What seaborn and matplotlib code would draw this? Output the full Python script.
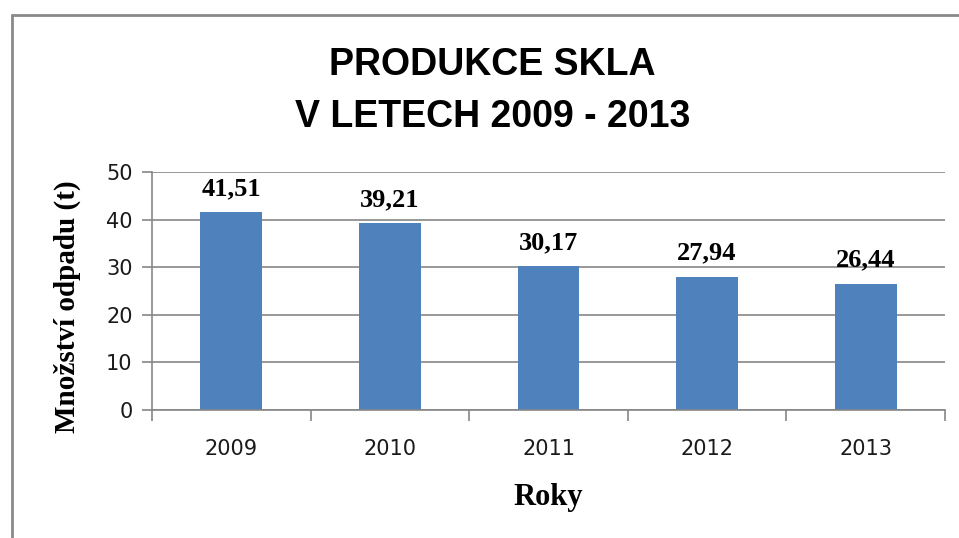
import matplotlib
matplotlib.use("Agg")
import matplotlib.pyplot as plt
import seaborn as sns
import pandas as pd
from matplotlib.lines import Line2D

years = ["2009", "2010", "2011", "2012", "2013"]
values = [41.51, 39.21, 30.17, 27.94, 26.44]
value_labels = ["41,51", "39,21", "30,17", "27,94", "26,44"]
yticks = [0, 10, 20, 30, 40, 50]

title = "PRODUKCE SKLA\nV LETECH 2009 - 2013"
ylabel = "Množství odpadu (t)"
xlabel = "Roky"

sns.set_theme(style="white")
plt.rcParams['font.family'] = ['DejaVu Sans']
plt.rcParams['text.color'] = 'black'
plt.rcParams['axes.labelcolor'] = 'black'

grid_c = "#868686"
bar_c = "#4F81BD"

fig = plt.figure(figsize=(9.59, 5.38), dpi=100)
ax = fig.add_axes([152/959, 1-410/538, (945-152)/959, (410-172)/538])

df = pd.DataFrame({"year": years, "value": values})
sns.barplot(data=df, x="year", y="value", color=bar_c, width=0.39, ax=ax,
            saturation=1, edgecolor="none")

ax.set_xlim(-0.5, 4.5)
ax.set_ylim(0, 50)
ax.set_yticks(yticks)
ax.set_yticklabels([str(t) for t in yticks], fontsize=15, color="#1a1a1a")
ax.yaxis.grid(True, color=grid_c, linewidth=1.2)
ax.set_axisbelow(True)
ax.tick_params(axis="y", length=7, width=1.2, color=grid_c, direction="out", pad=7, left=True)
ax.set_xticks(range(len(years)))
ax.set_xticklabels(years, fontsize=15, color="#1a1a1a")
ax.set_xticks([i - 0.5 for i in range(len(years) + 1)], minor=True)
ax.tick_params(axis="x", which="major", length=0, pad=21)
ax.tick_params(axis="x", which="minor", length=8, width=1.2, color=grid_c, direction="out", bottom=True)

for s in ["top", "right"]:
    ax.spines[s].set_visible(False)
for s in ["left", "bottom"]:
    ax.spines[s].set_color(grid_c)
    ax.spines[s].set_linewidth(1.2)

for i, (v, lab) in enumerate(zip(values, value_labels)):
    ax.annotate(lab, xy=(i, v), xytext=(0, 9), textcoords="offset points",
                ha="center", va="bottom", fontsize=19, fontweight="bold",
                family="Liberation Serif", color="black")

ax.set_xlabel(xlabel, fontsize=22, fontweight="bold", family="Liberation Serif")
ax.xaxis.set_label_coords(0.5, -(497 - 410) / 238)
ax.xaxis.label.set_va("center")
ax.set_ylabel(ylabel, fontsize=21, fontweight="bold", family="Liberation Serif")
ax.yaxis.set_label_coords((67 - 152) / 793, (410 - 307) / 238)
ax.yaxis.label.set_va("center")

fig.text(492/959, 1-65/538, "PRODUKCE SKLA", ha="center", va="center", fontsize=27,
         fontweight="bold", family="Liberation Sans", color="black")
fig.text(493/959, 1-117/538, "V LETECH 2009 - 2013", ha="center", va="center", fontsize=27,
         fontweight="bold", family="Liberation Sans", color="black")

# chart area border
fig.add_artist(Line2D([12/959, 1.0], [1-15/538, 1-15/538], transform=fig.transFigure,
                      color="#8a8a8a", linewidth=2))
fig.add_artist(Line2D([12/959, 12/959], [0.0, 1-15/538], transform=fig.transFigure,
                      color="#8a8a8a", linewidth=2))

fig.savefig("out.png", dpi=100)
